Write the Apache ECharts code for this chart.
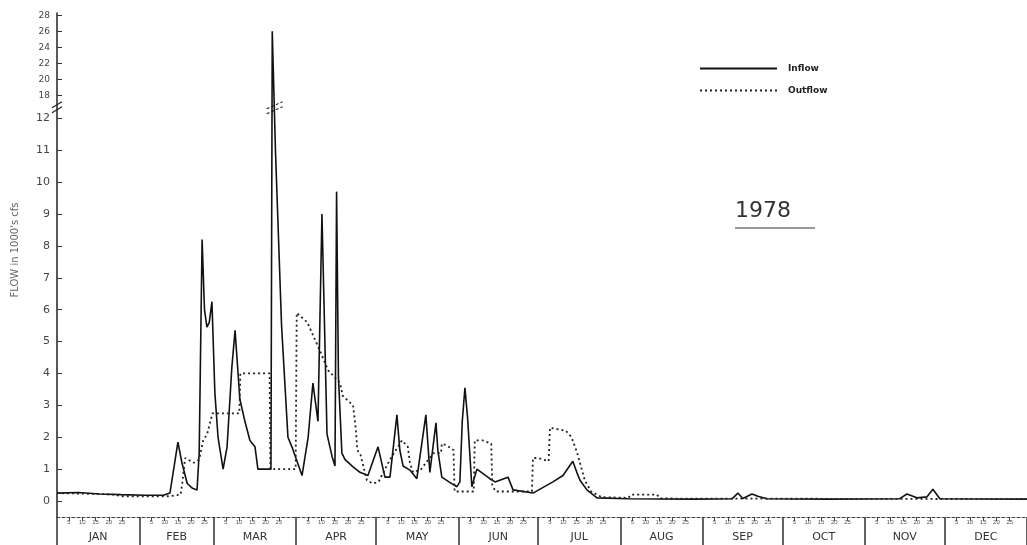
<!DOCTYPE html>
<html>
<head>
<meta charset="utf-8">
<script src="https://cdn.jsdelivr.net/npm/echarts@6/dist/echarts.min.js"></script>
<style>html,body{margin:0;padding:0;background:#fff}#c{width:1027px;height:545px}</style>
</head>
<body>
<div id="c"></div>
<script>
const monthNames = ['JAN','FEB','MAR','APR','MAY','JUN','JUL','AUG','SEP','OCT','NOV','DEC'];
const monthStarts = [0,31,59,90,120,151,181,212,243,273,304,334,365];
const dayMarks = [5,10,15,20,25];
const yTicksLower = [0,1,2,3,4,5,6,7,8,9,10,11,12];
const yTicksUpper = [18,20,22,24,26,28];

const inflowDays = [0,8,16,24,33,40,42.5,45.5,47,49,51,52.7,53.5,54.6,55.5,56.4,57.3,58.3,59.4,60.6,62.5,64,65.8,67,68.8,70.7,72.6,74.5,75.6,80.5,81,82.2,84.5,86.9,88.4,92.2,94.5,96.3,98.2,99.7,101.6,103.5,104.6,105.2,105.9,107.2,108.4,111.4,114,117,120.8,123.4,125.3,127.9,129,130.2,132.8,135.4,138.8,140.3,142.6,143.3,144.8,147.5,150.5,151.6,152.5,153.5,154.5,156.1,158,162.9,164.8,169.7,171.6,179.1,186.6,190.4,194.1,195.6,196.8,199.4,203.2,215,240,254,256.2,258.1,261.5,263.7,267.1,290,317,319.8,323.6,327.3,329.6,332.2,365];
const inflowValues = [0.25,0.27,0.22,0.2,0.18,0.18,0.25,1.85,1.2,0.55,0.4,0.35,1.5,8.2,6.0,5.45,5.6,6.25,3.4,2.0,1.0,1.7,4.2,5.35,3.2,2.5,1.9,1.7,1.0,1.0,26,11,5.5,2.0,1.7,0.8,2.0,3.7,2.5,9.0,2.1,1.4,1.1,9.7,3.9,1.5,1.3,1.07,0.9,0.8,1.7,0.75,0.75,2.7,1.6,1.1,0.97,0.7,2.7,0.9,2.45,1.6,0.75,0.6,0.45,0.6,2.5,3.55,2.6,0.45,1.0,0.7,0.6,0.75,0.35,0.25,0.6,0.8,1.25,0.9,0.65,0.35,0.1,0.07,0.06,0.07,0.25,0.08,0.22,0.15,0.07,0.06,0.07,0.22,0.1,0.13,0.37,0.07,0.06];

const outflowDays = [0,16,22,24,42,46.5,47.2,48.2,51.5,53.5,55,56.5,58.5,68.6,69,80,80.3,89.8,90.2,94.2,99,102,106.5,107.5,111.4,112.5,113,114.2,116.6,118.8,121,123.4,125.3,129.8,132,132.8,134,137,141.6,144.5,144.8,146.5,149.2,149.6,156.8,157.2,160.2,163.4,163.8,165,178.7,179.1,181,185,185.5,191.5,193.6,195.6,198.6,201,205,215,216,225.7,227,365];
const outflowValues = [0.25,0.22,0.2,0.15,0.15,0.2,0.6,1.35,1.2,1.3,1.9,2.1,2.75,2.75,4.0,4.0,1.0,1.0,5.9,5.6,4.7,4.1,3.7,3.3,3.0,2.2,1.6,1.45,0.65,0.55,0.6,1.0,1.3,1.9,1.7,1.2,0.9,1.0,1.5,1.5,1.8,1.75,1.6,0.3,0.3,1.9,1.9,1.8,0.5,0.3,0.3,1.35,1.35,1.25,2.3,2.2,2.0,1.55,0.65,0.3,0.12,0.1,0.2,0.2,0.08,0.06];

// broken-axis scale: 0-12 linear, 12-18 compressed gap, 18-28 compressed
function brk(v){
  if (v <= 12) return v;
  if (v <= 18) return 12 + (v - 12) * 0.72 / 6;
  return 12.72 + (v - 18) * 2.51 / 10;
}
function unbrk(t){
  if (t <= 12) return t;
  if (t <= 12.72) return 12 + (t - 12) * 6 / 0.72;
  return 18 + (t - 12.72) * 10 / 2.51;
}

const yTickPos = yTicksLower.map(brk).concat(yTicksUpper.map(brk));
const dayTickPos = [], dayLabelMap = {};
for (let m = 0; m < 12; m++) {
  dayMarks.forEach(d => {
    const v = monthStarts[m] + d - 0.5;
    dayTickPos.push(v);
    dayLabelMap[v.toFixed(2)] = String(d);
  });
}
const monthMid = monthNames.map((n, i) => (monthStarts[i] + monthStarts[i + 1]) / 2);

const chart = echarts.init(document.getElementById('c'), null, {renderer: 'canvas'});
const option = {
  animation: false,
  backgroundColor: '#fff',
  grid: {left: 57, right: 0, top: 13, bottom: 28, containLabel: false},
  legend: {
    orient: 'vertical', left: 694, top: 59, itemWidth: 77, itemHeight: 10, itemGap: 13,
    itemStyle: {opacity: 0},
    textStyle: {fontSize: 9, fontWeight: 'bold', color: '#222', fontFamily: 'DejaVu Sans', padding: [0, 0, 0, 6]},
    data: ['Inflow', 'Outflow']
  },
  xAxis: [
    {
      type: 'value', min: 0, max: 365, position: 'bottom', offset: 0,
      axisLine: {show: true, onZero: false, lineStyle: {color: '#444', width: 1, type: [3, 2]}},
      axisTick: {show: true, customValues: dayTickPos, length: 4, lineStyle: {color: '#444', width: 1}},
      axisLabel: {show: true, customValues: dayTickPos, fontSize: 6, color: '#555', margin: 2,
        formatter: v => dayLabelMap[v.toFixed(2)] || ''},
      splitLine: {show: false}
    },
    {
      type: 'value', min: 0, max: 365, position: 'bottom', offset: 0,
      axisLine: {show: false, onZero: false},
      axisTick: {show: true, customValues: monthStarts, length: 28, lineStyle: {color: '#333', width: 1.5}},
      axisLabel: {show: true, customValues: monthMid, fontSize: 11, color: '#333', margin: 15,
        fontFamily: 'DejaVu Sans',
        formatter: v => { const i = monthMid.findIndex(x => Math.abs(x - v) < 0.01); return i >= 0 ? monthNames[i] : ''; }},
      splitLine: {show: false}
    }
  ],
  yAxis: {
    type: 'value', min: -0.5, max: 15.3,
    name: "FLOW in 1000's cfs", nameLocation: 'middle', nameGap: 37, nameRotate: 90,
    nameTextStyle: {fontSize: 10, color: '#666', fontFamily: 'DejaVu Sans', padding: [0, 0, 0, 30]},
    axisLine: {show: true, onZero: false, lineStyle: {color: '#222', width: 1.5}},
    axisTick: {show: true, inside: true, length: 5, customValues: yTickPos, lineStyle: {color: '#333'}},
    axisLabel: {
      customValues: yTickPos, margin: 7, color: '#444', fontFamily: 'DejaVu Sans',
      formatter: t => { const v = Math.round(unbrk(t)); return v > 12 ? '{s|' + v + '}' : '{n|' + v + '}'; },
      rich: {n: {fontSize: 11, color: '#444'}, s: {fontSize: 9, color: '#444'}}
    },
    splitLine: {show: false}
  },
  series: [
    {
      name: 'Inflow', type: 'line', xAxisIndex: 0, symbol: 'none', smooth: false,
      lineStyle: {color: '#111', width: 1.6, type: 'solid'},
      itemStyle: {color: '#111'},
      data: inflowDays.map((d, i) => [d, brk(inflowValues[i])])
    },
    {
      name: 'Outflow', type: 'line', xAxisIndex: 0, symbol: 'none', smooth: false,
      lineStyle: {color: '#222', width: 1.8, type: [2, 3]},
      itemStyle: {color: '#222'},
      data: outflowDays.map((d, i) => [d, brk(outflowValues[i])])
    }
  ]
};
chart.setOption(option);

// decorations: axis break marks and year label
const gAxis = chart.convertToPixel({gridIndex: 0}, [0, brk(15)]);
const gSpike = chart.convertToPixel({gridIndex: 0}, [81.9, brk(15)]);
chart.setOption({
  graphic: [
    {type: 'line', shape: {x1: gAxis[0] - 5, y1: gAxis[1] + 1, x2: gAxis[0] + 5, y2: gAxis[1] - 5}, style: {stroke: '#222', lineWidth: 1.2}},
    {type: 'line', shape: {x1: gAxis[0] - 5, y1: gAxis[1] + 6, x2: gAxis[0] + 5, y2: gAxis[1]}, style: {stroke: '#222', lineWidth: 1.2}},
    {type: 'line', shape: {x1: gSpike[0] - 8, y1: gSpike[1] + 2, x2: gSpike[0] + 8, y2: gSpike[1] - 5}, style: {stroke: '#333', lineWidth: 1.2, lineDash: [3, 2]}},
    {type: 'line', shape: {x1: gSpike[0] - 8, y1: gSpike[1] + 7, x2: gSpike[0] + 8, y2: gSpike[1]}, style: {stroke: '#333', lineWidth: 1.2, lineDash: [3, 2]}},
    {type: 'text', left: 735, top: 200, style: {text: '1978', fontSize: 22, fill: '#333', fontFamily: 'DejaVu Sans'}},
    {type: 'line', shape: {x1: 735, y1: 228, x2: 815, y2: 228}, style: {stroke: '#333', lineWidth: 1.2}}
  ]
});
</script>
</body>
</html>
